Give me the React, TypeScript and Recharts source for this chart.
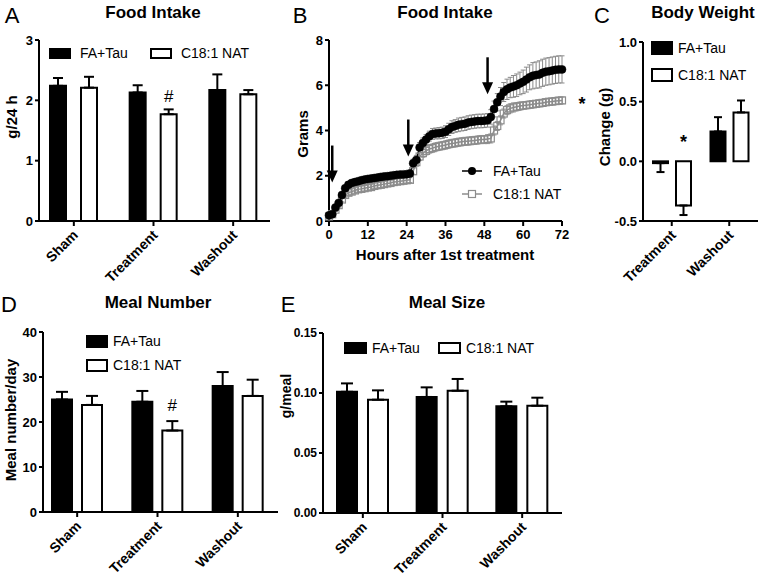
import React from "react";
import {
  BarChart,
  Bar,
  XAxis,
  YAxis,
  ErrorBar,
  LabelList,
  Legend,
  ComposedChart,
  Line,
  Scatter,
} from "recharts";

const FONT = "'Liberation Sans', Arial, Helvetica, sans-serif";

// A - food intake (g/24 h)
const groups = ["Sham", "Treatment", "Washout"];
const intakeFa = [2.24, 2.13, 2.17];
const intakeFaErr = [0.13, 0.12, 0.26];
const intakeNat = [2.21, 1.77, 2.1];
const intakeNatErr = [0.18, 0.08, 0.07];
const intakeMarks = ["", "#", ""];

// B - cumulative food intake (grams) per hour
const hours = [
  0, 1, 2, 3, 4, 5, 6, 7, 8, 9, 10, 11, 12, 13, 14, 15, 16, 17, 18, 19, 20, 21, 22, 23, 24,
  25, 26, 27, 28, 29, 30, 31, 32, 33, 34, 35, 36, 37, 38, 39, 40, 41, 42, 43, 44, 45, 46, 47,
  48, 49, 50, 51, 52, 53, 54, 55, 56, 57, 58, 59, 60, 61, 62, 63, 64, 65, 66, 67, 68, 69, 70,
  71, 72,
];
const faGrams = [
  0.25, 0.3, 0.6, 0.8, 1.15, 1.45, 1.6, 1.68, 1.72, 1.76,
  1.8, 1.83, 1.86, 1.88, 1.9, 1.92, 1.95, 1.97, 1.98, 2.0,
  2.02, 2.04, 2.05, 2.06, 2.07, 2.1, 2.55, 2.7, 3.25, 3.45,
  3.6, 3.75, 3.85, 3.87, 3.88, 3.9, 3.95, 4.05, 4.15, 4.2,
  4.25, 4.28, 4.3, 4.35, 4.38, 4.4, 4.42, 4.42, 4.43, 4.45,
  4.6, 4.95, 5.25, 5.5, 5.7, 5.82, 5.9, 5.95, 6.0, 6.08,
  6.15, 6.25, 6.35, 6.42, 6.45, 6.48, 6.55, 6.6, 6.62, 6.65,
  6.68, 6.7, 6.7,
];
const faGramsErr = [
  0.05, 0.05, 0.08, 0.1, 0.1, 0.12, 0.12, 0.12, 0.12, 0.12,
  0.12, 0.12, 0.12, 0.12, 0.12, 0.12, 0.12, 0.12, 0.12, 0.12,
  0.12, 0.12, 0.12, 0.12, 0.12, 0.15, 0.18, 0.2, 0.22, 0.22,
  0.22, 0.22, 0.24, 0.24, 0.25, 0.25, 0.26, 0.27, 0.28, 0.28,
  0.3, 0.3, 0.3, 0.3, 0.3, 0.3, 0.3, 0.3, 0.3, 0.3,
  0.32, 0.35, 0.38, 0.4, 0.42, 0.45, 0.45, 0.48, 0.5, 0.5,
  0.52, 0.55, 0.55, 0.58, 0.58, 0.6, 0.6, 0.6, 0.6, 0.6,
  0.6, 0.6, 0.6,
];
const natGrams = [
  0.2, 0.3, 0.5, 0.7, 0.95, 1.15, 1.25, 1.3, 1.35, 1.4,
  1.42, 1.45, 1.48, 1.5, 1.55, 1.58, 1.6, 1.63, 1.66, 1.68,
  1.72, 1.74, 1.76, 1.78, 1.8, 1.82, 2.2, 2.6, 2.85, 3.0,
  3.1, 3.18, 3.22, 3.27, 3.3, 3.33, 3.36, 3.4, 3.43, 3.45,
  3.48, 3.5, 3.52, 3.53, 3.55, 3.56, 3.58, 3.6, 3.6, 3.62,
  3.65, 4.0, 4.2, 4.45, 4.75, 4.9, 4.98, 5.02, 5.05, 5.08,
  5.1, 5.12, 5.14, 5.16, 5.18, 5.2, 5.22, 5.25, 5.27, 5.28,
  5.3, 5.32, 5.33,
];
const natGramsErr = [
  0.05, 0.05, 0.08, 0.1, 0.1, 0.12, 0.12, 0.12, 0.12, 0.12,
  0.12, 0.12, 0.12, 0.12, 0.12, 0.12, 0.12, 0.12, 0.12, 0.12,
  0.12, 0.12, 0.12, 0.12, 0.12, 0.12, 0.15, 0.18, 0.18, 0.18,
  0.18, 0.18, 0.18, 0.18, 0.18, 0.18, 0.18, 0.18, 0.18, 0.18,
  0.18, 0.18, 0.18, 0.18, 0.18, 0.18, 0.18, 0.18, 0.18, 0.2,
  0.2, 0.2, 0.2, 0.2, 0.2, 0.2, 0.2, 0.2, 0.18, 0.18,
  0.16, 0.16, 0.16, 0.16, 0.15, 0.15, 0.15, 0.15, 0.15, 0.15,
  0.15, 0.15, 0.15,
];
// injection times (h) and arrow tip heights (g)
const injectHours = [1, 24.5, 49];
const injectTips = [1.7, 2.85, 5.6];

// C - body weight change (g)
const weightGroups = ["Treatment", "Washout"];
const weightFa = [-0.015, 0.25];
const weightFaErr = [0.075, 0.12];
const weightNat = [-0.37, 0.41];
const weightNatErr = [0.08, 0.1];
const weightMarks = ["*", ""];

// D - meal number/day
const mealNumFa = [25.0, 24.5, 28.0];
const mealNumFaErr = [1.7, 2.4, 3.1];
const mealNumNat = [23.8, 18.1, 25.8];
const mealNumNatErr = [2.0, 2.1, 3.6];
const mealNumMarks = ["", "#", ""];

// E - meal size g/meal
const mealSizeFa = [0.101, 0.0967, 0.0889];
const mealSizeFaErr = [0.007, 0.008, 0.0039];
const mealSizeNat = [0.0944, 0.1019, 0.0894];
const mealSizeNatErr = [0.0078, 0.0098, 0.0067];

const buildRows = (
  names: string[],
  fa: number[],
  faErr: number[],
  nat: number[],
  natErr: number[],
  marks: string[]
) =>
  names.map((name, i) => ({
    name,
    fa: fa[i],
    faErr: fa[i] < 0 ? [faErr[i], 0] : [0, faErr[i]],
    nat: nat[i],
    natErr: nat[i] < 0 ? [natErr[i], 0] : [0, natErr[i]],
    mark: marks[i],
  }));

const intakeRows = buildRows(groups, intakeFa, intakeFaErr, intakeNat, intakeNatErr, intakeMarks);
const weightRows = buildRows(weightGroups, weightFa, weightFaErr, weightNat, weightNatErr, weightMarks);
const mealNumRows = buildRows(groups, mealNumFa, mealNumFaErr, mealNumNat, mealNumNatErr, mealNumMarks);
const mealSizeRows = buildRows(groups, mealSizeFa, mealSizeFaErr, mealSizeNat, mealSizeNatErr, ["", "", ""]);

const timeRows = hours.map((h, i) => ({
  h,
  fa: faGrams[i],
  faErr: faGramsErr[i],
  nat: natGrams[i],
  natErr: natGramsErr[i],
}));
const arrowRows = injectHours.map((h, i) => ({ h, tip: injectTips[i] }));

const tickStyle = { fontSize: 13, fontWeight: 700, fill: "#000", fontFamily: FONT };
const smallTickStyle = { ...tickStyle, fontSize: 12 };
const axisLine = { stroke: "#000", strokeWidth: 2 };
const tickLine = { stroke: "#000", strokeWidth: 2 };

const CategoryTick = (props: any) => {
  const { x, y, payload } = props;
  const ax = x + 5;
  const ay = y + 8;
  return (
    <text
      x={ax}
      y={ay}
      textAnchor="end"
      transform={`rotate(-45 ${ax} ${ay})`}
      fontSize={14}
      fontWeight={700}
      fontFamily={FONT}
      fill="#000"
    >
      {payload.value}
    </text>
  );
};

const markLabel = (lift: number, size: number, bold: boolean) => (props: any) => {
  const { x, y, width, height, value } = props;
  if (!value) return null;
  const top = Math.min(y, y + height);
  return (
    <text
      x={x + width / 2}
      y={top - lift}
      textAnchor="middle"
      fontSize={size}
      fontWeight={bold ? 700 : 400}
      fontFamily={FONT}
      fill="#000"
    >
      {value}
    </text>
  );
};

const Swatch = ({ filled, w, h }: { filled: boolean; w: number; h: number }) => (
  <svg width={w + 2} height={h + 2} style={{ display: "block" }}>
    <rect x={1} y={1} width={w} height={h} fill={filled ? "#000" : "#fff"} stroke="#000" strokeWidth={2} />
  </svg>
);

const barLegend = (opts: {
  vertical: boolean;
  w: number;
  h: number;
  textGap: number;
  itemGap: number;
}) => () => {
  const items = [
    { label: "FA+Tau", filled: true },
    { label: "C18:1 NAT", filled: false },
  ];
  return (
    <div
      style={{
        display: "flex",
        flexDirection: opts.vertical ? "column" : "row",
        gap: opts.itemGap,
        fontFamily: FONT,
        fontSize: 14,
        color: "#000",
      }}
    >
      {items.map((it) => (
        <div key={it.label} style={{ display: "flex", alignItems: "center", lineHeight: 1 }}>
          <Swatch filled={it.filled} w={opts.w} h={opts.h} />
          <span style={{ marginLeft: opts.textGap, whiteSpace: "nowrap" }}>{it.label}</span>
        </div>
      ))}
    </div>
  );
};

const lineLegend = () => (
  <div style={{ display: "flex", flexDirection: "column", gap: 5, fontFamily: FONT, fontSize: 14 }}>
    <div style={{ display: "flex", alignItems: "center", height: 18 }}>
      <svg width={22} height={12} style={{ display: "block" }}>
        <line x1={1} y1={6} x2={21} y2={6} stroke="#000" strokeWidth={1.5} />
        <circle cx={11} cy={6} r={4} fill="#000" />
      </svg>
      <span style={{ marginLeft: 10, color: "#000" }}>FA+Tau</span>
    </div>
    <div style={{ display: "flex", alignItems: "center", height: 18 }}>
      <svg width={22} height={12} style={{ display: "block" }}>
        <line x1={1} y1={6} x2={21} y2={6} stroke="#8c8c8c" strokeWidth={1.5} />
        <rect x={7.5} y={2.5} width={7} height={7} fill="#fff" stroke="#8c8c8c" strokeWidth={1.2} />
      </svg>
      <span style={{ marginLeft: 10, color: "#000" }}>C18:1 NAT</span>
    </div>
  </div>
);

const SquareDot = (props: any) => {
  const { cx, cy, index } = props;
  return (
    <rect key={`sq-${index}`} x={cx - 3.5} y={cy - 3.5} width={7} height={7} fill="none" stroke="#8c8c8c" strokeWidth={1.2} />
  );
};

const ArrowMark = (props: any) => {
  const { cx, cy } = props;
  return (
    <g>
      <line x1={cx} y1={cy - 37} x2={cx} y2={cy - 10} stroke="#000" strokeWidth={2.5} />
      <polygon points={`${cx - 5.5},${cy - 12} ${cx + 5.5},${cy - 12} ${cx},${cy}`} fill="#000" />
    </g>
  );
};

const Txt = (p: { x: number; y: number; size: number; bold?: boolean; rotate?: boolean; children: any }) => (
  <div
    style={{
      position: "absolute",
      left: p.x,
      top: p.y,
      transform: `translate(-50%, -50%)${p.rotate ? " rotate(-90deg)" : ""}`,
      fontSize: p.size,
      fontWeight: p.bold ? 700 : 400,
      whiteSpace: "nowrap",
      lineHeight: 1,
      fontFamily: FONT,
      color: "#000",
    }}
  >
    {p.children}
  </div>
);

const place = (left: number, top: number): React.CSSProperties => ({ position: "absolute", left, top });

export default function App() {
  return (
    <div style={{ position: "absolute", left: 0, top: 0, width: 762, height: 577, background: "#fff", fontFamily: FONT }}>
      {/* A */}
      <div style={place(0, 0)}>
        <BarChart width={280} height={290} data={intakeRows} margin={{ top: 40, right: 10, bottom: 9, left: 14 }} barSize={16} barGap={15}>
          <XAxis dataKey="name" height={60} interval={0} padding={{ left: -5, right: -3 }} axisLine={axisLine} tickLine={tickLine} tickSize={5} tick={<CategoryTick />} />
          <YAxis width={25} domain={[0, 3]} ticks={[0, 1, 2, 3]} axisLine={axisLine} tickLine={tickLine} tickSize={4} tick={tickStyle} />
          <Legend layout="vertical" align="center" verticalAlign="middle" wrapperStyle={{ left: 49, top: 46, width: "auto" }} content={barLegend({ vertical: false, w: 20, h: 9, textGap: 9, itemGap: 22 })} />
          <Bar dataKey="fa" fill="#000" stroke="#000" strokeWidth={2} isAnimationActive={false}>
            <ErrorBar dataKey="faErr" width={5} stroke="#000" strokeWidth={2} direction="y" />
          </Bar>
          <Bar dataKey="nat" fill="#fff" stroke="#000" strokeWidth={2} isAnimationActive={false}>
            <ErrorBar dataKey="natErr" width={5} stroke="#000" strokeWidth={2} direction="y" />
            <LabelList dataKey="mark" content={markLabel(12, 17, false)} />
          </Bar>
        </BarChart>
      </div>

      {/* B */}
      <div style={place(260, 0)}>
        <ComposedChart width={320} height={290} data={timeRows} margin={{ top: 40, right: 18, bottom: 9, left: 30 }}>
          <XAxis dataKey="h" type="number" domain={[0, 72]} ticks={[0, 12, 24, 36, 48, 60, 72]} height={60} axisLine={axisLine} tickLine={tickLine} tickSize={5} tickMargin={4} tick={tickStyle} />
          <YAxis width={39} domain={[0, 8]} ticks={[0, 2, 4, 6, 8]} axisLine={axisLine} tickLine={tickLine} tickSize={4} tick={tickStyle} />
          <Legend layout="vertical" align="center" verticalAlign="middle" wrapperStyle={{ left: 201, top: 162, width: "auto" }} content={lineLegend} />
          <Line dataKey="nat" stroke="#8c8c8c" strokeWidth={1.5} dot={SquareDot} isAnimationActive={false}>
            <ErrorBar dataKey="natErr" width={2.5} stroke="#9a9a9a" strokeWidth={1} direction="y" />
          </Line>
          <Line dataKey="fa" stroke="#000" strokeWidth={1.5} dot={{ r: 4, fill: "#000", stroke: "#000", strokeWidth: 0.5 }} isAnimationActive={false}>
            <ErrorBar dataKey="faErr" width={2.5} stroke="#8a8a8a" strokeWidth={1} direction="y" />
          </Line>
          <Scatter data={arrowRows} dataKey="tip" shape={ArrowMark} isAnimationActive={false} />
        </ComposedChart>
      </div>

      {/* C */}
      <div style={place(570, 0)}>
        <BarChart width={192} height={290} data={weightRows} margin={{ top: 42, right: 4, bottom: 9, left: 30 }} barSize={15} barGap={8}>
          <XAxis dataKey="name" height={60} interval={0} axisLine={axisLine} tickLine={tickLine} tickSize={5} tick={<CategoryTick />} />
          <YAxis width={43} domain={[-0.5, 1]} ticks={[-0.5, 0, 0.5, 1]} tickFormatter={(v: number) => v.toFixed(1)} axisLine={axisLine} tickLine={tickLine} tickSize={4} tick={tickStyle} />
          <Legend layout="vertical" align="center" verticalAlign="middle" wrapperStyle={{ left: 81, top: 41, width: "auto" }} content={barLegend({ vertical: true, w: 20, h: 12, textGap: 5, itemGap: 13 })} />
          <Bar dataKey="fa" fill="#000" stroke="#000" strokeWidth={2} isAnimationActive={false}>
            <ErrorBar dataKey="faErr" width={4} stroke="#000" strokeWidth={2} direction="y" />
          </Bar>
          <Bar dataKey="nat" fill="#fff" stroke="#000" strokeWidth={2} isAnimationActive={false}>
            <ErrorBar dataKey="natErr" width={4} stroke="#000" strokeWidth={2} direction="y" />
            <LabelList dataKey="mark" content={markLabel(13, 18, true)} />
          </Bar>
        </BarChart>
      </div>

      {/* D */}
      <div style={place(0, 290)}>
        <BarChart width={290} height={287} data={mealNumRows} margin={{ top: 42, right: 12, bottom: 9, left: 10 }} barSize={20} barGap={10}>
          <XAxis dataKey="name" height={56} interval={0} padding={{ left: -6, right: 0 }} axisLine={axisLine} tickLine={tickLine} tickSize={5} tick={<CategoryTick />} />
          <YAxis width={33} domain={[0, 40]} ticks={[0, 10, 20, 30, 40]} axisLine={axisLine} tickLine={tickLine} tickSize={4} tick={tickStyle} />
          <Legend layout="vertical" align="center" verticalAlign="middle" wrapperStyle={{ left: 86, top: 44, width: "auto" }} content={barLegend({ vertical: true, w: 20, h: 11, textGap: 5, itemGap: 10 })} />
          <Bar dataKey="fa" fill="#000" stroke="#000" strokeWidth={2} isAnimationActive={false}>
            <ErrorBar dataKey="faErr" width={6} stroke="#000" strokeWidth={2} direction="y" />
          </Bar>
          <Bar dataKey="nat" fill="#fff" stroke="#000" strokeWidth={2} isAnimationActive={false}>
            <ErrorBar dataKey="natErr" width={6} stroke="#000" strokeWidth={2} direction="y" />
            <LabelList dataKey="mark" content={markLabel(20, 17, false)} />
          </Bar>
        </BarChart>
      </div>

      {/* E */}
      <div style={place(270, 290)}>
        <BarChart width={300} height={287} data={mealSizeRows} margin={{ top: 43, right: 8, bottom: 9, left: 10 }} barSize={20} barGap={11}>
          <XAxis dataKey="name" height={55} interval={0} axisLine={axisLine} tickLine={tickLine} tickSize={5} tick={<CategoryTick />} />
          <YAxis width={43} domain={[0, 0.15]} ticks={[0, 0.05, 0.1, 0.15]} tickFormatter={(v: number) => v.toFixed(2)} axisLine={axisLine} tickLine={tickLine} tickSize={4} tick={smallTickStyle} />
          <Legend layout="vertical" align="center" verticalAlign="middle" wrapperStyle={{ left: 74, top: 51, width: "auto" }} content={barLegend({ vertical: false, w: 21, h: 10, textGap: 5, itemGap: 18 })} />
          <Bar dataKey="fa" fill="#000" stroke="#000" strokeWidth={2} isAnimationActive={false}>
            <ErrorBar dataKey="faErr" width={6} stroke="#000" strokeWidth={2} direction="y" />
          </Bar>
          <Bar dataKey="nat" fill="#fff" stroke="#000" strokeWidth={2} isAnimationActive={false}>
            <ErrorBar dataKey="natErr" width={6} stroke="#000" strokeWidth={2} direction="y" />
          </Bar>
        </BarChart>
      </div>

      {/* panel letters, titles and axis titles */}
      <Txt x={12} y={16} size={22}>A</Txt>
      <Txt x={153} y={12} size={17} bold>Food Intake</Txt>
      <Txt x={11} y={117} size={15} bold rotate>g/24 h</Txt>

      <Txt x={300} y={16} size={22}>B</Txt>
      <Txt x={445} y={12} size={17} bold>Food Intake</Txt>
      <Txt x={302} y={134} size={15} bold rotate>Grams</Txt>
      <Txt x={445} y={254} size={15} bold>Hours after 1st treatment</Txt>
      <Txt x={582} y={104} size={18} bold>*</Txt>

      <Txt x={602} y={16} size={22}>C</Txt>
      <Txt x={703} y={12} size={17} bold>Body Weight</Txt>
      <Txt x={604} y={127} size={15} bold rotate>Change (g)</Txt>

      <Txt x={9} y={305} size={22}>D</Txt>
      <Txt x={158} y={302} size={17} bold>Meal Number</Txt>
      <Txt x={10} y={420} size={15} bold rotate>Meal number/day</Txt>

      <Txt x={288} y={305} size={22}>E</Txt>
      <Txt x={447} y={302} size={17} bold>Meal Size</Txt>
      <Txt x={286} y={396} size={14} bold rotate>g/meal</Txt>
    </div>
  );
}
